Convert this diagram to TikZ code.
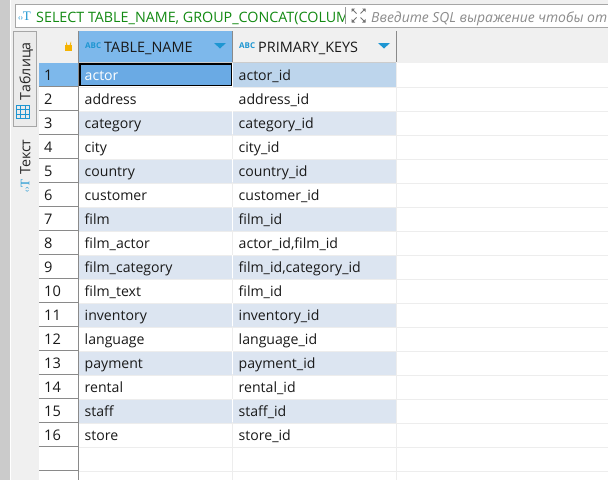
\documentclass[tikz,border=0pt]{standalone}
\usepackage{fontspec}
\setmainfont{Open Sans}
\newfontfamily\iconserif{Liberation Serif}
\definecolor{panel}{HTML}{F0F0F0}
\definecolor{strip}{HTML}{CBCBCB}
\definecolor{hdrsel}{HTML}{7DB8EB}
\definecolor{rowalt}{HTML}{DCE5F1}
\definecolor{cellsel}{HTML}{6AAAE4}
\definecolor{rowsel}{HTML}{BDD5EC}
\definecolor{gridc}{HTML}{EDEDED}
\definecolor{hdrline}{HTML}{8A8A8A}
\definecolor{iconblue}{HTML}{1E96D2}
\definecolor{sqlgreen}{HTML}{128A12}
\definecolor{lockc}{HTML}{F5B301}
\tikzset{
  x=1pt,y=-1pt,
  celltext/.style={anchor=base west,inner sep=0pt,font=\fontsize{14.1}{16}\selectfont,text=black!90},
  rownum/.style={anchor=base west,inner sep=0pt,font=\fontsize{14.6}{16}\selectfont,text=black!90},
  hdrtext/.style={anchor=base west,inner sep=0pt,font=\fontsize{14.4}{16}\selectfont,text=black!90},
  abc/.style={anchor=base west,inner sep=0pt,font=\fontsize{8}{8}\bfseries\selectfont,text=iconblue},
  tabtext/.style={anchor=base west,inner sep=0pt,rotate=90,font=\fontsize{14.2}{16}\selectfont,text=black!85},
}
\newcommand{\tablerow}[4]{%
  \node[rownum] (n#1) at (44,#4+17.5) {#1};
  \node[celltext] (a#1) at (84.5,#4+17.5) {#2};
  \node[celltext] (b#1) at (238.5,#4+17.5) {#3};
}
\begin{document}
\begin{tikzpicture}
\useasboundingbox (0,0) rectangle (608,480);
\fill[white] (0,0) rectangle (608,480);
% outer panels
\fill[panel] (0,0) rectangle (608,31);
\fill[strip] (0,0) rectangle (10,480);
\fill[panel] (11,0) rectangle (39,480);
\draw[white,line width=1pt] (10.5,0) -- (10.5,480);
% toolbar
\fill[white] (15,4) rectangle (608,27);
\draw[black!35] (15,27) -- (15,4) -- (608,4);
\draw[black!35] (15,27) -- (608,27);
\node[anchor=base west,inner sep=0pt,text=iconblue] (ico) at (18,20.5) {\fontsize{8}{9}\selectfont ‹›\kern-.3pt\iconserif\fontsize{13}{14}\selectfont T};
\begin{scope}
\clip (30,4) rectangle (344,27);
\node[anchor=base west,inner sep=0pt,font=\fontsize{14.3}{16}\selectfont,text=sqlgreen] (sql) at (36,22) {SELECT TABLE\_NAME, GROUP\_CONCAT(COLUM};
\end{scope}
\draw[black!40] (345.5,7) -- (345.5,24);
% expand icon
\foreach \sx/\sy in {1/1,-1/1,1/-1,-1/-1}{
  \draw[black!55,line width=1pt] (358.5-\sx*2,15.5-\sy*2) -- (358.5-\sx*6.5,15.5-\sy*6.5);
  \fill[black!55] (358.5-\sx*7,15.5-\sy*7) -- (358.5-\sx*3.5,15.5-\sy*7) -- (358.5-\sx*7,15.5-\sy*3.5) -- cycle;
}
\node[anchor=base west,inner sep=0pt,font=\fontsize{13.9}{16}\itshape\selectfont,text=black!45] (hint) at (371,22) {Введите SQL выражение чтобы от};
% header
\fill[panel] (39,31) rectangle (608,63);
\fill[hdrsel] (79,31) rectangle (232,62);
\draw[hdrline] (78.5,31) -- (78.5,480);
\draw[hdrline] (232.5,31) -- (232.5,62);
\draw[hdrline] (396.5,31) -- (396.5,62);
\draw[black!20] (79,62.5) -- (396,62.5);
% lock
\fill[lockc] (65,44.5) rectangle (72,51);
\draw[lockc,line width=1pt] (66.5,44.5) -- (66.5,44) arc (180:0:2) -- (70.5,44.5);
% header texts
\node[abc] (abc1) at (85,48) {ABC};
\node[hdrtext] (h1) at (104,52) {TABLE\_NAME};
\fill[iconblue] (214,43) -- (226,43) -- (220,48.5) -- cycle;
\node[abc] (abc2) at (239,48) {ABC};
\node[hdrtext] (h2) at (258,52) {PRIMARY\_KEYS};
\fill[iconblue] (378,43) -- (390,43) -- (384,48.5) -- cycle;
% rows
\fill[rowsel] (233,63) rectangle (396,87);
\fill[hdrsel] (39,63) rectangle (78,87);
\foreach \i in {3,5,...,15}{
  \fill[rowalt] (79,39+24*\i) rectangle (396,63+24*\i);
}
\foreach \i in {2,...,18}{
  \draw[gridc,line width=1pt] (79,40+24*\i-.5) -- (608,40+24*\i-.5);
}
\foreach \i in {1,...,17}{
  \draw[hdrline,line width=1pt] (39,62.5+24*\i) -- (78,62.5+24*\i);
}
\draw[white,line width=1pt] (232.5,63) -- (232.5,480);
\draw[gridc,line width=1pt] (232.5,111) -- (232.5,480);
\foreach \i in {3,5,...,15}{
  \draw[white,line width=1pt] (232.5,39+24*\i) -- (232.5,62+24*\i);
}
\draw[gridc,line width=1pt] (396.5,63) -- (396.5,480);
\fill[cellsel] (80,64) rectangle (231,85);
\draw[black,line width=1.4pt] (80,64) rectangle (231.3,85.5);
% row contents
\tablerow{1}{\textcolor{white}{actor}}{actor\_id}{63}
\tablerow{2}{address}{address\_id}{87}
\tablerow{3}{category}{category\_id}{111}
\tablerow{4}{city}{city\_id}{135}
\tablerow{5}{country}{country\_id}{159}
\tablerow{6}{customer}{customer\_id}{183}
\tablerow{7}{film}{film\_id}{207}
\tablerow{8}{film\_actor}{actor\_id,film\_id}{231}
\tablerow{9}{film\_category}{film\_id,category\_id}{255}
\tablerow{10}{film\_text}{film\_id}{279}
\tablerow{11}{inventory}{inventory\_id}{303}
\tablerow{12}{language}{language\_id}{327}
\tablerow{13}{payment}{payment\_id}{351}
\tablerow{14}{rental}{rental\_id}{375}
\tablerow{15}{staff}{staff\_id}{399}
\tablerow{16}{store}{store\_id}{423}
% side tabs
\fill[black!8] (13.5,31.5) rectangle (36.5,126.5);
\draw[black!35] (13.5,31.5) rectangle (36.5,126.5);
\node[tabtext] (tab1) at (30.5,100.5) {Таблица};
\draw[iconblue,line width=.8pt] (16.5,105.5) rectangle (29.5,118.5);
\foreach \k in {1,2}{
  \draw[iconblue,line width=.7pt] (16.5+\k*4.33,105.5) -- (16.5+\k*4.33,118.5);
  \draw[iconblue,line width=.7pt] (16.5,105.5+\k*4.33) -- (29.5,105.5+\k*4.33);
}
\node[tabtext] (tab2) at (30.5,175) {Текст};
\node[inner sep=0pt,rotate=90,text=iconblue] (tab2i) at (25,186) {\fontsize{8}{9}\selectfont ‹›\kern-.3pt\iconserif\fontsize{13}{14}\selectfont T};
\end{tikzpicture}
\end{document}
